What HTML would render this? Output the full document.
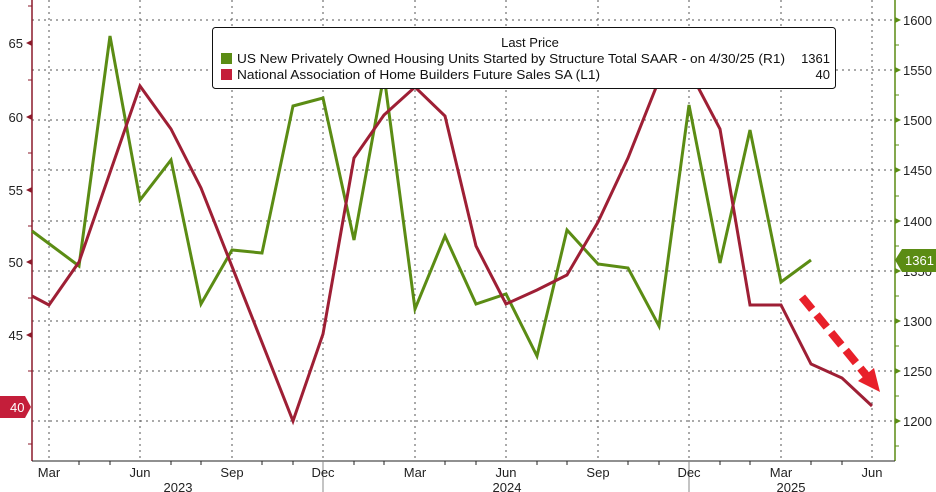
<!DOCTYPE html>
<html><head><meta charset="utf-8"><style>
body{margin:0;background:#fff;}
svg{display:block;font-family:"Liberation Sans",sans-serif;}
</style></head><body>
<svg width="936" height="492" viewBox="0 0 936 492">
<rect width="936" height="492" fill="#fff"/>
<g stroke="#555" stroke-width="1" stroke-dasharray="2,4">
<line x1="32" x2="895" y1="20" y2="20"/><line x1="32" x2="895" y1="70" y2="70"/>
<line x1="32" x2="895" y1="120" y2="120"/><line x1="32" x2="895" y1="170" y2="170"/>
<line x1="32" x2="895" y1="221" y2="221"/><line x1="32" x2="895" y1="271" y2="271"/>
<line x1="32" x2="895" y1="321" y2="321"/><line x1="32" x2="895" y1="371" y2="371"/>
<line x1="32" x2="895" y1="421" y2="421"/>
<line x1="49" x2="49" y1="0" y2="461"/><line x1="140" x2="140" y1="0" y2="461"/>
<line x1="232" x2="232" y1="0" y2="461"/><line x1="323" x2="323" y1="0" y2="461"/>
<line x1="415" x2="415" y1="0" y2="461"/><line x1="506" x2="506" y1="0" y2="461"/>
<line x1="598" x2="598" y1="0" y2="461"/><line x1="689" x2="689" y1="0" y2="461"/>
<line x1="781" x2="781" y1="0" y2="461"/><line x1="872" x2="872" y1="0" y2="461"/>
</g>
<line x1="32" y1="0" x2="32" y2="461" stroke="#8b1a2b" stroke-width="1.5"/>
<line x1="895" y1="0" x2="895" y2="461" stroke="#5b8c14" stroke-width="1.5"/>
<line x1="32" y1="461" x2="895" y2="461" stroke="#222" stroke-width="1"/>
<g stroke="#8b1a2b"><line x1="28" x2="32" y1="6" y2="6"/><line x1="28" x2="32" y1="80" y2="80"/><line x1="28" x2="32" y1="153" y2="153"/><line x1="28" x2="32" y1="226" y2="226"/><line x1="28" x2="32" y1="298" y2="298"/><line x1="28" x2="32" y1="371" y2="371"/><line x1="28" x2="32" y1="444" y2="444"/></g>
<g stroke="#5b8c14"><line x1="895" x2="899" y1="45" y2="45"/><line x1="895" x2="899" y1="95" y2="95"/><line x1="895" x2="899" y1="145" y2="145"/><line x1="895" x2="899" y1="196" y2="196"/><line x1="895" x2="899" y1="246" y2="246"/><line x1="895" x2="899" y1="296" y2="296"/><line x1="895" x2="899" y1="346" y2="346"/><line x1="895" x2="899" y1="396" y2="396"/><line x1="895" x2="899" y1="446" y2="446"/></g>
<g stroke="#222"><line x1="79" x2="79" y1="461" y2="465"/><line x1="110" x2="110" y1="461" y2="465"/><line x1="171" x2="171" y1="461" y2="465"/><line x1="201" x2="201" y1="461" y2="465"/><line x1="262" x2="262" y1="461" y2="465"/><line x1="293" x2="293" y1="461" y2="465"/><line x1="354" x2="354" y1="461" y2="465"/><line x1="384" x2="384" y1="461" y2="465"/><line x1="445" x2="445" y1="461" y2="465"/><line x1="476" x2="476" y1="461" y2="465"/><line x1="537" x2="537" y1="461" y2="465"/><line x1="567" x2="567" y1="461" y2="465"/><line x1="628" x2="628" y1="461" y2="465"/><line x1="659" x2="659" y1="461" y2="465"/><line x1="720" x2="720" y1="461" y2="465"/><line x1="750" x2="750" y1="461" y2="465"/><line x1="811" x2="811" y1="461" y2="465"/><line x1="842" x2="842" y1="461" y2="465"/>
<line x1="323" x2="323" y1="461" y2="492" stroke="#888"/><line x1="689" x2="689" y1="461" y2="492" stroke="#888"/></g>
<g fill="#222" font-size="13" text-anchor="middle">
<text x="49" y="477">Mar</text><text x="140" y="477">Jun</text><text x="232" y="477">Sep</text><text x="323" y="477">Dec</text><text x="415" y="477">Mar</text><text x="506" y="477">Jun</text><text x="598" y="477">Sep</text><text x="689" y="477">Dec</text><text x="781" y="477">Mar</text><text x="872" y="477">Jun</text>
<text x="178" y="492">2023</text><text x="507" y="492">2024</text><text x="791" y="492">2025</text>
</g>
<g fill="#222" font-size="13" text-anchor="end">
<text x="23" y="48">65</text><text x="23" y="122">60</text><text x="23" y="195">55</text><text x="23" y="267">50</text><text x="23" y="340">45</text>
</g>
<g fill="#8b1a2b"><path d="M26,43 l6,-3 v6z"/><path d="M26,117 l6,-3 v6z"/><path d="M26,190 l6,-3 v6z"/><path d="M26,262 l6,-3 v6z"/><path d="M26,335 l6,-3 v6z"/></g>
<g fill="#222" font-size="13">
<text x="903" y="25">1600</text><text x="903" y="75">1550</text><text x="903" y="125">1500</text><text x="903" y="175">1450</text><text x="903" y="226">1400</text><text x="903" y="276">1350</text><text x="903" y="326">1300</text><text x="903" y="376">1250</text><text x="903" y="426">1200</text>
</g>
<g fill="#5b8c14"><path d="M901,20 l-6,-3 v6z"/><path d="M901,70 l-6,-3 v6z"/><path d="M901,120 l-6,-3 v6z"/><path d="M901,170 l-6,-3 v6z"/><path d="M901,221 l-6,-3 v6z"/><path d="M901,271 l-6,-3 v6z"/><path d="M901,321 l-6,-3 v6z"/><path d="M901,371 l-6,-3 v6z"/><path d="M901,421 l-6,-3 v6z"/></g>
<polyline fill="none" stroke="#5b8c14" stroke-width="3" points="32,231 79,266 110,36 140,200 171,160 201,304 232,250 262,253 293,106 323,98 354,240 384,75 415,309 445,236 476,304 506,294 537,356 567,230 598,264 628,268 659,326 689,105 720,263 750,130 781,282 811,260"/>
<polyline fill="none" stroke="#9e1f35" stroke-width="3" points="32,296 49,305 79,262 140,86 171,129 201,188 293,421 323,334 354,158 384,115 415,87 445,116 476,246 506,304 537,290 567,275 598,222 628,158 659,80 689,70 720,129 750,305 781,305 811,364 842,378 872,406"/>
<line x1="802" y1="297" x2="866" y2="375" stroke="#e8202a" stroke-width="8" stroke-dasharray="16,7"/>
<path d="M880,392 L858,381 L874,368 Z" fill="#e8202a"/>
<rect x="212.5" y="27.5" width="623" height="61" rx="3" fill="#fff" stroke="#111"/>
<text x="530" y="47" font-size="13" text-anchor="middle" fill="#111">Last Price</text>
<rect x="221" y="53" width="11" height="11" fill="#5b8c14"/>
<rect x="221" y="69" width="11" height="11" fill="#c41e3a"/>
<text x="237" y="63" font-size="13" fill="#111" textLength="548" lengthAdjust="spacingAndGlyphs">US New Privately Owned Housing Units Started by Structure Total SAAR -  on 4/30/25  (R1)</text>
<text x="237" y="79" font-size="13" fill="#111" textLength="363" lengthAdjust="spacingAndGlyphs">National Association of Home Builders Future Sales SA  (L1)</text>
<text x="830" y="63" font-size="13" fill="#111" text-anchor="end">1361</text>
<text x="830" y="79" font-size="13" fill="#111" text-anchor="end">40</text>
<path d="M895,260 L902,249 H936 V272 H902 Z" fill="#5b8c14"/>
<text x="905" y="265" font-size="13" fill="#fff">1361</text>
<path d="M0,396 H25 L31,407 L25,418 H0 Z" fill="#c41e3a"/>
<text x="10" y="412" font-size="13" fill="#fff">40</text>
</svg>
</body></html>
